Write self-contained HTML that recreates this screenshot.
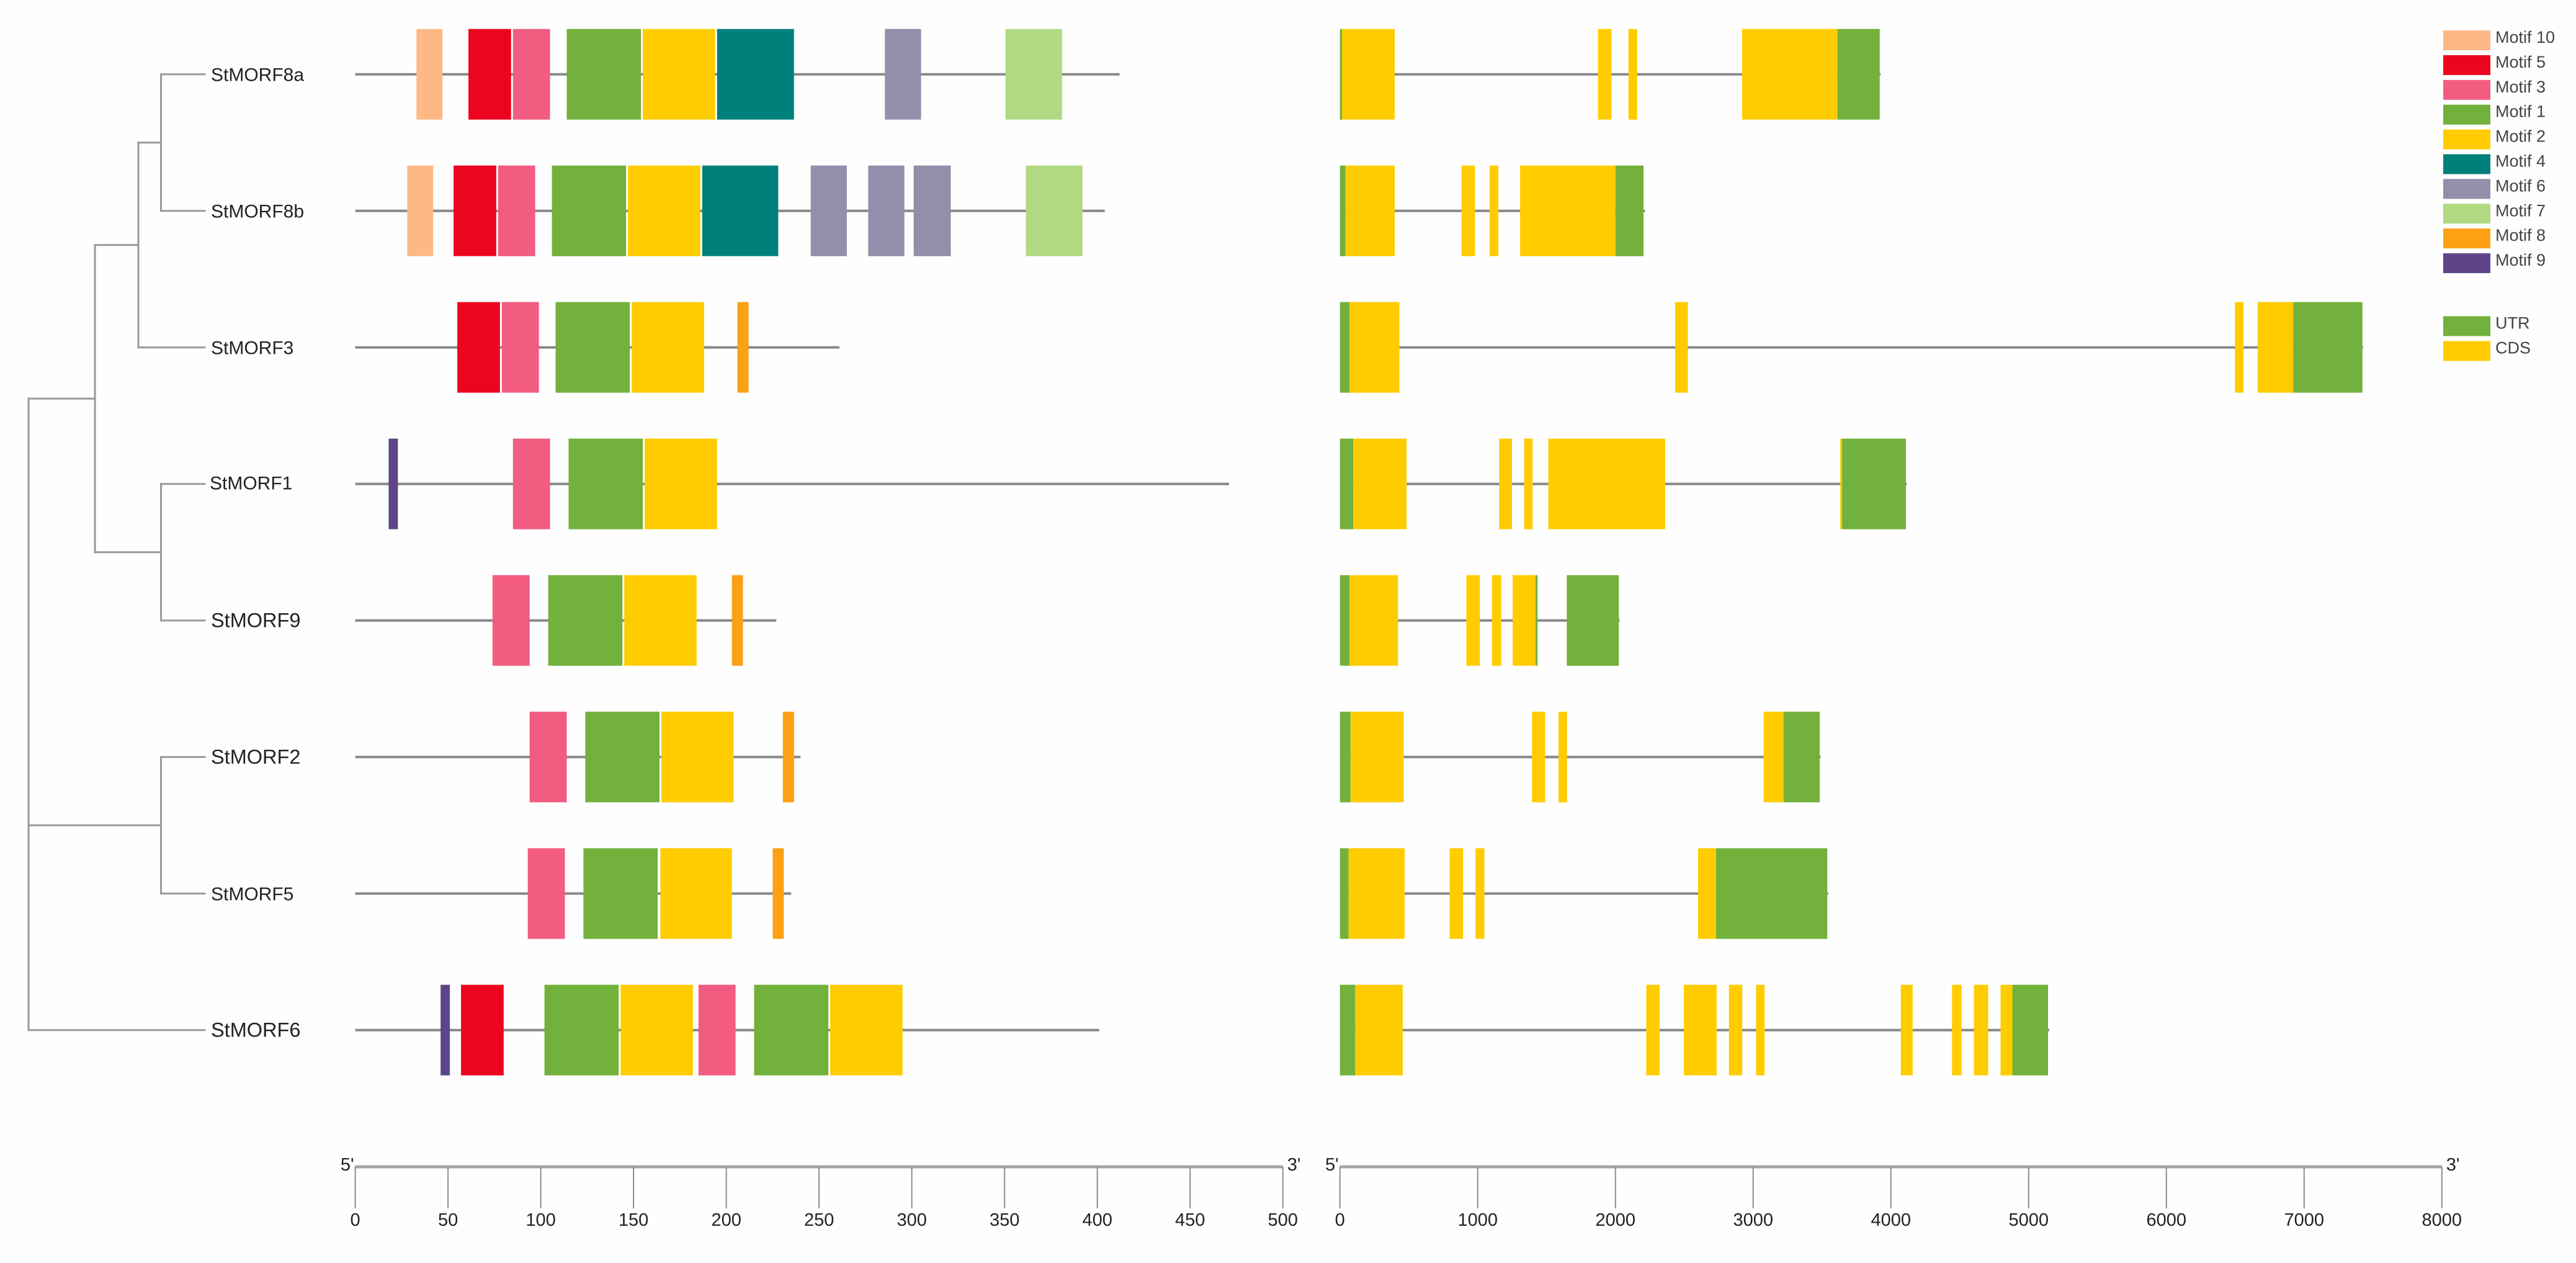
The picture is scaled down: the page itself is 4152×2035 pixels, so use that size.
<!DOCTYPE html>
<html lang="en">
<head>
<meta charset="utf-8">
<title>StMORF motif and gene structure</title>
<style>
html,body{margin:0;padding:0;background:#fefefe;width:4152px;height:2035px;overflow:hidden}
svg{display:block}
text{font-family:"Liberation Sans",Arial,sans-serif}
</style>
</head>
<body>
<svg id="chart" xmlns="http://www.w3.org/2000/svg" width="4152" height="2035" viewBox="0 0 4152 2035">
<g id="tree"></g>
<g id="labels"></g>
<g id="motif-panel"></g>
<g id="gene-panel"></g>
<g id="axes"></g>
<g id="legend"></g>
</svg>
<script>
// ---- data ----
const geneNames = ["StMORF8a","StMORF8b","StMORF3","StMORF1","StMORF9","StMORF2","StMORF5","StMORF6"];

const proteinLengths = [412,404,261,471,227,240,235,401];
const motifs8a = [["10",33,47],["5",61,84],["3",85,105],["1",114,154],["2",155,194],["4",195,236.5],["6",285.5,305],["7",350.5,381]];
const motifs8b = [["10",28,42],["5",53,76],["3",77,97],["1",106,146],["2",147,186],["4",187,228],["6",245.5,265],["6",276.5,296],["6",301,321],["7",361.5,392]];
const motifs3  = [["5",55,78],["3",79,99],["1",108,148],["2",149,188],["8",206,212]];
const motifs1  = [["9",18,23],["3",85,105],["1",115,155],["2",156,195]];
const motifs9  = [["3",74,94],["1",104,144],["2",145,184],["8",203,209]];
const motifs2  = [["3",94,114],["1",124,164],["2",165,204],["8",230.5,236.5]];
const motifs5  = [["3",93,113],["1",123,163],["2",164.5,203],["8",225,231]];
const motifs6  = [["9",46,51],["5",57,80],["1",102,142],["2",143,182],["3",185,205],["1",215,255],["2",256,295]];
const motifTracks = [motifs8a,motifs8b,motifs3,motifs1,motifs9,motifs2,motifs5,motifs6];

const geneLengths = [3925,2215,7428,4115,2030,3490,3545,5150];
const exons8a = [["UTR",0,15],["CDS",15,398],["CDS",1874,1972],["CDS",2095,2158],["CDS",2920,3612],["UTR",3612,3919]];
const exons8b = [["UTR",0,41],["CDS",41,398],["CDS",883,981],["CDS",1087,1150],["CDS",1308,2000],["UTR",2000,2204]];
const exons3  = [["UTR",0,70],["CDS",70,432],["CDS",2433,2526],["CDS",6498,6560],["CDS",6663,6921],["UTR",6921,7423]];
const exons1  = [["UTR",0,96],["CDS",96,484],["CDS",1156,1249],["CDS",1337,1399],["CDS",1513,2361],["CDS",3632,3645],["UTR",3645,4109]];
const exons9  = [["UTR",0,70],["CDS",70,422],["CDS",918,1016],["CDS",1104,1171],["CDS",1254,1420],["UTR",1420,1435],["UTR",1647,2025]];
const exons2  = [["UTR",0,77],["CDS",77,463],["CDS",1394,1490],["CDS",1587,1649],["CDS",3076,3221],["UTR",3221,3483]];
const exons5  = [["UTR",0,63],["CDS",63,470],["CDS",797,894],["CDS",984,1049],["CDS",2600,2731],["UTR",2731,3538]];
const exons6  = [["UTR",0,111],["CDS",111,456],["CDS",2224,2321],["CDS",2497,2735],["CDS",2824,2921],["CDS",3021,3083],["CDS",4072,4158],["CDS",4444,4513],["CDS",4603,4706],["CDS",4796,4882],["UTR",4882,5141]];
const geneTracks = [exons8a,exons8b,exons3,exons1,exons9,exons2,exons5,exons6];

const motifTicks = [0,50,100,150,200,250,300,350,400,450,500];
const geneTicks = [0,1000,2000,3000,4000,5000,6000,7000,8000];

const motifLegendOrder = ["10","5","3","1","2","4","6","7","8","9"];
const geneLegendOrder = ["UTR","CDS"];

// Tree topology: branch depth runs 0 (root) to 1 (leaves); leaves are row indices.
const treeRoot = {depth:0, kids:[
  {depth:.377, kids:[
    {depth:.623, kids:[{depth:.752, kids:[0,1]}, 2]},
    {depth:.752, kids:[3,4]}
  ]},
  {depth:.752, kids:[5,6]},
  7
]};

// ---- styles ----
const colours = {"10":"#FDB886","5":"#EC051F","3":"#F25C80","1":"#72B13B","2":"#FFCC00","4":"#00807A","6":"#948EAA","7":"#B1D981","8":"#FCA014","9":"#5E4589","UTR":"#72B13B","CDS":"#FFCC00"};

// ---- axis functions ----
const motifX = v => 572.6 + v * (2067.7 - 572.6) / 500;
const geneX = v => 2159.7 + v * (3935.8 - 2159.7) / 8000;
const rowY = i => 119.7 + i * 220;
const treeX = d => 46 + d * 284;
const BOX_H = 146;
const AXIS_Y = 1880;
const TICK_END = 1947;

const NS = "http://www.w3.org/2000/svg";
function mk(parent, tag, attrs, txt) {
  const el = document.createElementNS(NS, tag);
  for (const k in attrs) el.setAttribute(k, attrs[k]);
  if (txt !== undefined) el.textContent = txt;
  parent.appendChild(el);
  return el;
}
const slug = s => s.toLowerCase().replace(/[^a-z0-9]+/g, '-');

// ---- tree ----
const treeG = document.getElementById('tree');
function branch(x1, y1, x2, y2, name) {
  const el = mk(treeG, 'line', {x1:x1, y1:y1, x2:x2, y2:y2, stroke:'#999', 'stroke-width':3, 'stroke-linecap':'square'});
  
  
}
function drawNode(node) {
  const x = treeX(node.depth);
  const ys = node.kids.map(kid => {
    if (typeof kid === 'number') {
      const y = rowY(kid);
      branch(x, y, treeX(1), y, 'tree-branch-' + slug(geneNames[kid]));
      return y;
    }
    const y = drawNode(kid);
    branch(x, y, treeX(kid.depth), y, 'tree-branch-internal');
    return y;
  });
  const top = Math.min(...ys), bottom = Math.max(...ys);
  branch(x, top, x, bottom, 'tree-node-stem');
  return (top + bottom) / 2;
}
drawNode(treeRoot);

// ---- gene labels ----
const labelsG = document.getElementById('labels');
function labelSize(name) {
  if (name === 'StMORF9' || name === 'StMORF2' || name === 'StMORF6') return 32.5;
  return 30;
}
geneNames.forEach((name, i) => {
  const nudge = name === 'StMORF1' ? 2 : 0;
  const t = mk(labelsG, 'text', {x:340 - nudge, y:rowY(i) + 11 - nudge, 'font-size':labelSize(name), fill:'#222'}, name);
  
  
});

// ---- motif panel ----
const motifG = document.getElementById('motif-panel');
geneNames.forEach((name, i) => {
  const y = rowY(i);
  const line = mk(motifG, 'line', {x1:motifX(0), y1:y, x2:motifX(proteinLengths[i]), y2:y, stroke:'#888', 'stroke-width':4});
  
  
  motifTracks[i].forEach(m => {
    const r = mk(motifG, 'rect', {x:motifX(m[1]), y:y - BOX_H / 2, width:motifX(m[2]) - motifX(m[1]), height:BOX_H, fill:colours[m[0]]});
    
    
  });
});

// ---- gene structure panel ----
const geneG = document.getElementById('gene-panel');
geneNames.forEach((name, i) => {
  const y = rowY(i);
  const line = mk(geneG, 'line', {x1:geneX(0), y1:y, x2:geneX(geneLengths[i]), y2:y, stroke:'#888', 'stroke-width':4});
  
  
  geneTracks[i].forEach(e => {
    const r = mk(geneG, 'rect', {x:geneX(e[1]), y:y - BOX_H / 2, width:geneX(e[2]) - geneX(e[1]), height:BOX_H, fill:colours[e[0]]});
    
    
  });
});

// ---- axes ----
const axesG = document.getElementById('axes');
function drawAxis(ticks, xf, key) {
  const x0 = xf(ticks[0]), x1 = xf(ticks[ticks.length - 1]);
  const base = mk(axesG, 'line', {x1:x0, y1:AXIS_Y, x2:x1, y2:AXIS_Y, stroke:'#a6a6a6', 'stroke-width':5});
  
  
  ticks.forEach(v => {
    const tk = mk(axesG, 'line', {x1:xf(v), y1:AXIS_Y, x2:xf(v), y2:TICK_END, stroke:'#8c8c8c', 'stroke-width':2});
    
    
    const lb = mk(axesG, 'text', {x:xf(v), y:1975, 'font-size':29, 'text-anchor':'middle', fill:'#222'}, String(v));
    
    
  });
  const five = mk(axesG, 'text', {x:x0 - 2, y:1886, 'font-size':29, 'text-anchor':'end', fill:'#222'}, "5'");
  
  
  const three = mk(axesG, 'text', {x:x1 + 7, y:1886, 'font-size':29, fill:'#222'}, "3'");
  
  
}
drawAxis(motifTicks, motifX, 'motif');
drawAxis(geneTicks, geneX, 'gene');

// ---- legend ----
const legendG = document.getElementById('legend');
function legendEntry(key, text, top) {
  const r = mk(legendG, 'rect', {x:3938, y:top, width:76, height:32, fill:colours[key]});
  
  
  const t = mk(legendG, 'text', {x:4022, y:top + 20, 'font-size':27, fill:'#444'}, text);
  
  
}
motifLegendOrder.forEach((k, i) => legendEntry(k, 'Motif ' + k, 49 + i * 39.9));
geneLegendOrder.forEach((k, i) => legendEntry(k, k, 509.5 + i * 40));
</script>
</body>
</html>
